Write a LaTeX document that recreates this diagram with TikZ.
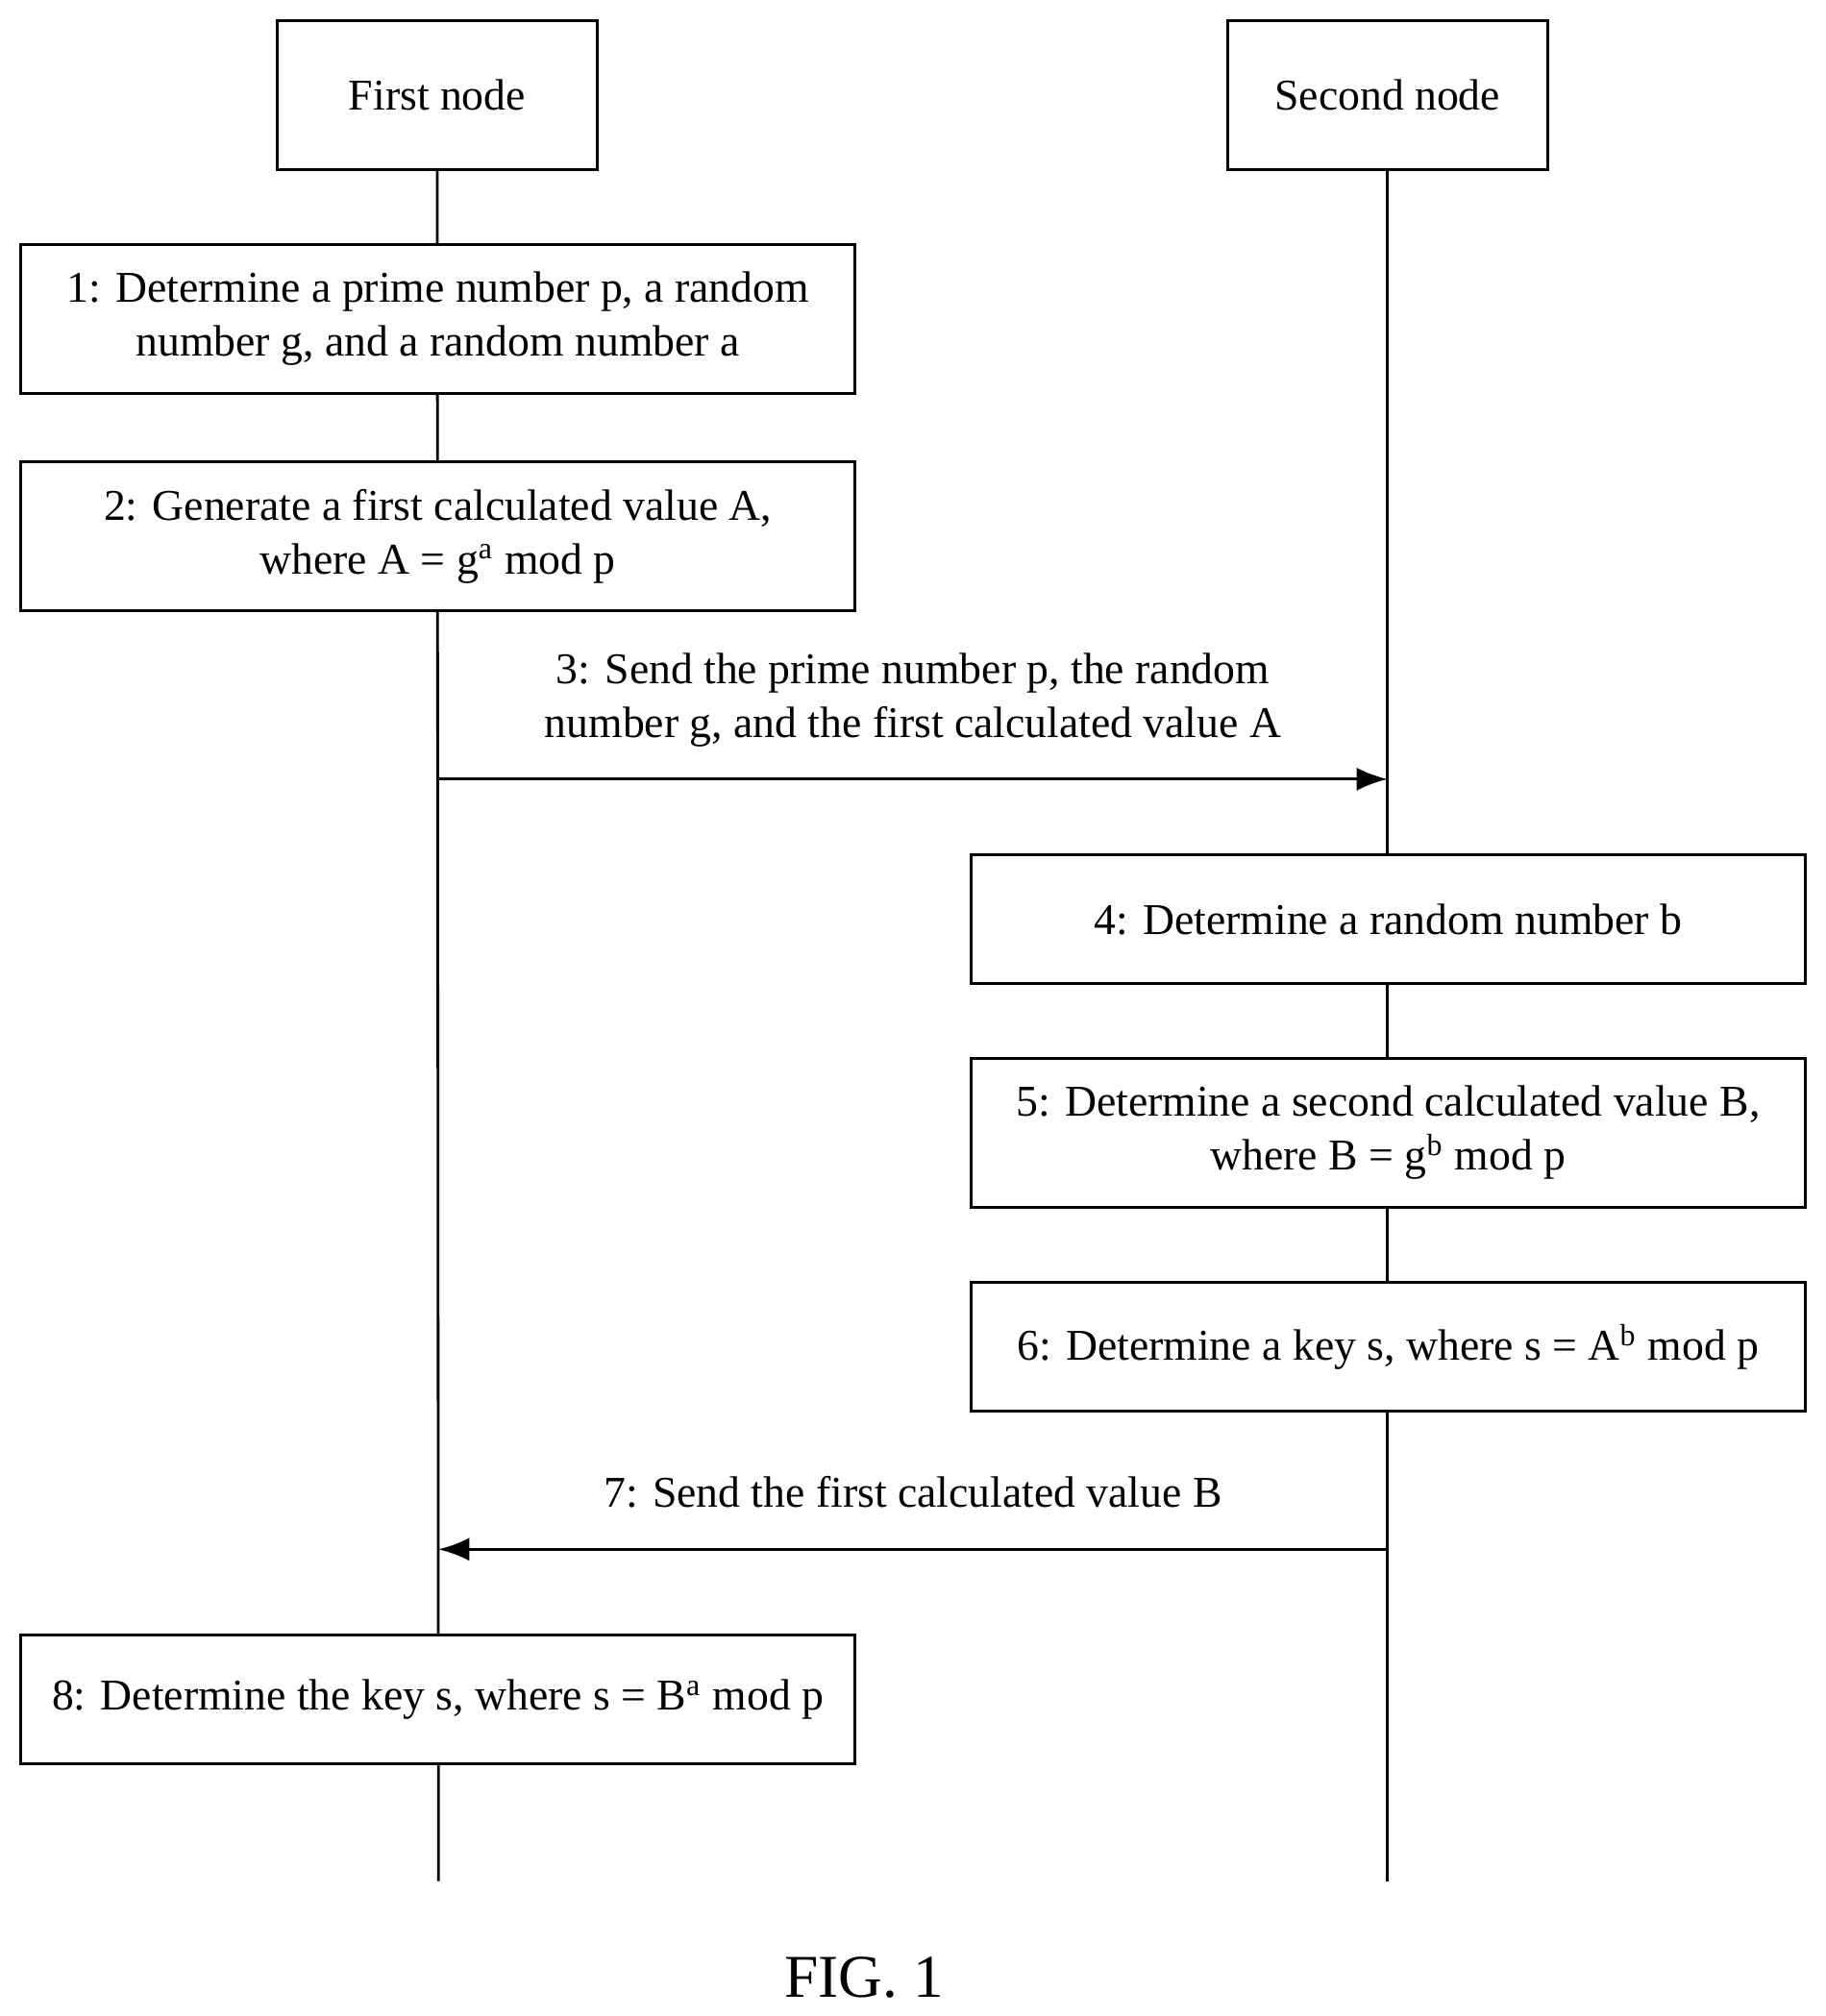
\documentclass[tikz,border=0pt]{standalone}
\usepackage{fontspec}
\setmainfont{Liberation Serif}
\usetikzlibrary{positioning, backgrounds, arrows.meta}

\begin{document}
\begin{tikzpicture}[
x=0.1338mm, y=-0.1338mm,
font=\fontsize{13}{16}\selectfont,
head_square/.style={rectangle, draw=black, fill=white, thick, minimum width=33.3mm, minimum height=15.5mm},
step_square/.style={rectangle, draw=black, fill=white, thick, align=center, minimum width=86.8mm, minimum height=15.5mm},
short_square/.style={step_square, minimum height=13.4mm},
life_line/.style={thick},
out_arrow/.style={-{Latex[length=3.2mm, width=2.4mm]}, thick}
]

\useasboundingbox (0,0) rectangle (1420,1568);

% heads
\node[head_square](first_node) at (340,74) {First node};
\node[head_square](second_node) at (1079,74) {Second node};

% steps
\node[step_square](step_one) at (340.5,248) {1: Determine a prime number p, a random\\number g, and a random number a};
\node[step_square](step_two) at (340.5,417) {2: Generate a first calculated value A,\\where A = g\textsuperscript{a} mod p};
\node[short_square](step_four) at (1079.5,715) {4: Determine a random number b};
\node[step_square](step_five) at (1079.5,881) {5: Determine a second calculated value B,\\where B = g\textsuperscript{b} mod p};
\node[short_square](step_six) at (1079.5,1047.5) {6: Determine a key s, where s = A\textsuperscript{b} mod p};
\node[short_square](step_eight) at (340.5,1322) {8: Determine the key s, where s = B\textsuperscript{a} mod p};

% life lines behind the boxes
\coordinate (first_end) at (341,1463);
\coordinate (second_end) at (1079,1463);
\begin{pgfonlayer}{background}
\draw[life_line](first_node) -- (first_end);
\draw[life_line](second_node) -- (second_end);
\end{pgfonlayer}

% messages
\coordinate (send_a) at (341,606);
\coordinate (recv_a) at (1079,606);
\coordinate (send_b) at (1079,1205);
\coordinate (recv_b) at (341,1205);
\draw[out_arrow](send_a) -- node[above=2mm, align=center, pos=0.5]{3: Send the prime number p, the random\\number g, and the first calculated value A} (recv_a);
\draw[out_arrow](send_b) -- node[above=3mm, pos=0.5]{7: Send the first calculated value B} (recv_b);

\node[font=\fontsize{18}{20}\selectfont](fig_label) at (672,1538) {FIG. 1};

\end{tikzpicture}
\end{document}
